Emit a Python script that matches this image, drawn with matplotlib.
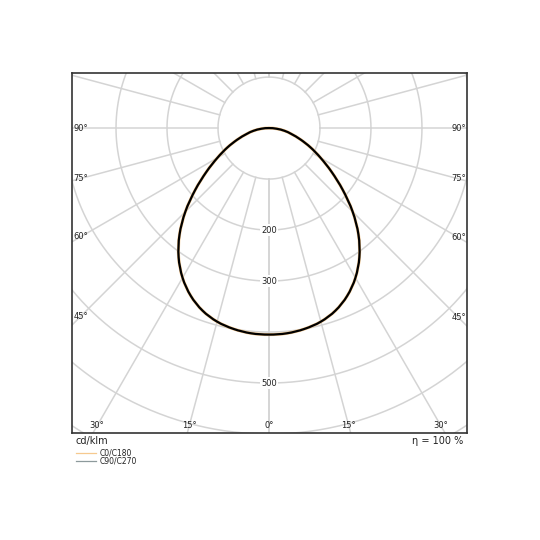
"""
Light distribution curve (polar LDC) drawn on a cartesian axes with equal aspect.
"""
import matplotlib
matplotlib.use("Agg")
import matplotlib.pyplot as plt
import numpy as np
from matplotlib.patches import PathPatch
from matplotlib.path import Path

# ---------------------------------------------------------------------
# Data (cd/klm vs gamma angle); right half = C0 / C90, left half = C180 / C270
# ---------------------------------------------------------------------
gamma_deg = [0, 5, 10, 15, 20, 25, 30, 35, 40, 45, 50, 55, 60, 65, 70, 75, 80, 85, 90]
c0 = [405, 404, 400, 393, 381, 363, 339, 309, 273, 232, 189, 150, 117, 90, 66, 46, 31, 15, 0]
c180 = [405, 404, 400, 393, 381, 363, 339, 309, 273, 232, 189, 150, 117, 90, 66, 46, 31, 15, 0]
c90 = [405, 404, 400, 393, 381, 363, 339, 309, 273, 232, 189, 150, 117, 90, 66, 46, 31, 15, 0]
c270 = [405, 404, 400, 393, 381, 363, 339, 309, 273, 232, 189, 150, 117, 90, 66, 46, 31, 15, 0]

grid_radii = [100, 200, 300, 400, 500, 600, 700, 800, 900]
grid_angles = list(range(0, 181, 15))
side_angle_labels = [45, 60, 75, 90]
bottom_angle_labels = [0, 15, 30]
radius_labels = [200, 300, 500]

unit_label = "cd/klm"
efficiency_label = "η = 100 %"
series_names = ["C0/C180", "C90/C270"]

GRID = "#d4d4d4"
ORANGE = "#f6c98f"
GREY = "#8d9a9c"
TEXT = "#222222"

XMIN, XMAX = -386, 388
YMIN, YMAX = -598, 108


def polar_xy(angles_deg, radii, sign=1):
    """gamma measured from nadir; sign=+1 right half, -1 left half."""
    a = np.radians(np.asarray(angles_deg, dtype=float))
    r = np.asarray(radii, dtype=float)
    return sign * r * np.sin(a), -r * np.cos(a)


def smooth_path(right, left):
    """Closed smooth path through the measured points (Catmull-Rom -> Bezier)."""
    xr, yr = polar_xy(gamma_deg, right, 1)
    xl, yl = polar_xy(gamma_deg, left, -1)
    # loop: nadir -> right side -> zenith point -> left side -> back
    x = np.concatenate([xr, xl[-2:0:-1]])
    y = np.concatenate([yr, yl[-2:0:-1]])
    pts = np.column_stack([x, y])
    n = len(pts)
    verts = [pts[0]]
    codes = [Path.MOVETO]
    for i in range(n):
        p0, p1, p2, p3 = pts[i - 1], pts[i], pts[(i + 1) % n], pts[(i + 2) % n]
        verts += [p1 + (p2 - p0) / 6, p2 - (p3 - p1) / 6, p2]
        codes += [Path.CURVE4] * 3
    return Path(verts, codes)


fig = plt.figure(figsize=(5.4, 5.4), dpi=100)
ax = fig.add_axes([72 / 540, 107 / 540, 395 / 540, 360 / 540])
ax.set_xlim(XMIN, XMAX)
ax.set_ylim(YMIN, YMAX)
ax.set_aspect("equal", adjustable="box")
ax.set_xticks([])
ax.set_yticks([])
for s in ax.spines.values():
    s.set_color("#333333")
    s.set_linewidth(1.2)

# grid circles
t = np.linspace(0, 2 * np.pi, 400)
for r in grid_radii:
    ax.plot(r * np.cos(t), r * np.sin(t), color=GRID, lw=1.1, zorder=1)

# radial lines, starting at the first circle
r0, r1 = grid_radii[0], 1200
for a in grid_angles:
    for sign in (1, -1):
        x, y = polar_xy([a, a], [r0, r1], sign)
        ax.plot(x, y, color=GRID, lw=1.1, zorder=1)

# curves
ax.add_patch(PathPatch(smooth_path(c0, c180), fc="none", ec=ORANGE, lw=2.2, zorder=3))
ax.add_patch(PathPatch(smooth_path(c90, c270), fc="none", ec="black", lw=1.6, zorder=4))

# angle labels on the side edges (centered on the line, just inside the box)
inset = 16
for a in side_angle_labels:
    xr = XMAX - inset
    yr = -xr / np.tan(np.radians(a)) if a != 90 else 0
    ax.text(XMAX - 2, yr, f"{a}°", ha="right", va="center", fontsize=6, color=TEXT,
            zorder=5)
    xl = XMIN + inset
    yl = xl / np.tan(np.radians(a)) if a != 90 else 0
    ax.text(XMIN + 2, yl, f"{a}°", ha="left", va="center", fontsize=6, color=TEXT,
            zorder=5)

# angle labels along the bottom edge
yb = YMIN + 14
for a in bottom_angle_labels:
    xb = -yb * np.tan(np.radians(a))
    for sign in ((1,) if a == 0 else (1, -1)):
        ax.text(sign * xb, yb, f"{a}°", ha="center", va="center", fontsize=6,
                color=TEXT, zorder=5)

# intensity labels on the nadir line
for r in radius_labels:
    ax.text(0, -r, str(r), ha="center", va="center", fontsize=6, color=TEXT, zorder=5,
            bbox=dict(boxstyle="square,pad=0.15", fc="white", ec="none"))

# texts under the box
fig.text(76 / 540, 1 - 441 / 540, unit_label, ha="left", va="center", fontsize=7,
         color=TEXT)
fig.text(463 / 540, 1 - 441 / 540, efficiency_label, ha="right", va="center",
         fontsize=7, color=TEXT)

# legend
for i, (name, col) in enumerate(zip(series_names, [ORANGE, GREY])):
    yy = 1 - (453 + 8 * i) / 540
    fig.add_artist(plt.Line2D([76 / 540, 96 / 540], [yy, yy], color=col, lw=0.9))
    fig.text(100 / 540, yy, name, ha="left", va="center", fontsize=5.5, color=TEXT)

fig.savefig("out.png", dpi=100)
